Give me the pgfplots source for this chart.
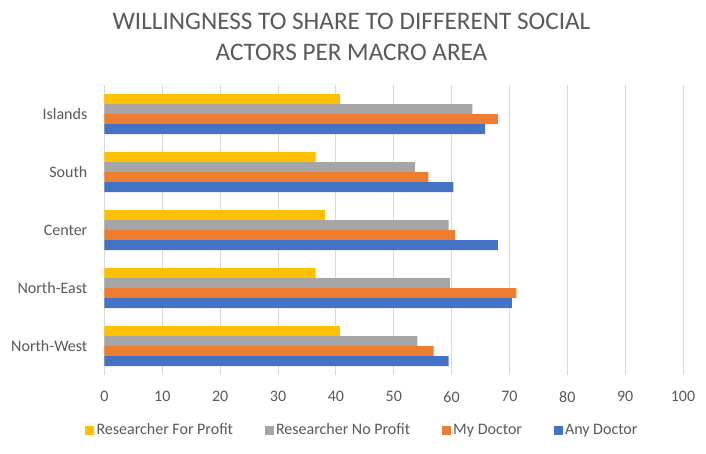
\documentclass[border=0pt]{standalone}
\usepackage{fontspec}
\setmainfont{Carlito}
\usepackage{pgfplots}
\pgfplotsset{compat=1.18}
\definecolor{cyel}{HTML}{FFC000}
\definecolor{cgry}{HTML}{A5A5A5}
\definecolor{corg}{HTML}{ED7D31}
\definecolor{cblu}{HTML}{4472C4}
\definecolor{txt}{HTML}{595959}
\definecolor{gridc}{HTML}{D9D9D9}
\begin{document}
\begin{tikzpicture}
\useasboundingbox (0pt,0pt) rectangle (706pt,453pt);
\node[align=center, text=txt, font=\fontsize{25.2}{31}\selectfont] at (351.5pt,416.5pt)
  {WILLINGNESS TO SHARE TO DIFFERENT SOCIAL\\ACTORS PER MACRO AREA};
\begin{axis}[
  at={(104.5pt,78pt)}, anchor=south west,
  scale only axis, width=578.5pt, height=290pt,
  xbar=0pt, bar width=10pt,
  xmin=0, xmax=100, ymin=-0.5, ymax=4.5,
  ytick={0,1,2,3,4},
  yticklabels={North-West,North-East,Center,South,Islands},
  xtick={0,10,...,100},
  xmajorgrids, grid style={gridc, line width=0.9pt},
  axis line style={draw=none},
  major tick length=0pt,
  /pgf/number format/assume math mode=true,
  tick label style={text=txt, font=\fontsize{16}{19}\selectfont, inner sep=0pt},
  xticklabel style={anchor=north, yshift=-16pt},
  yticklabel style={anchor=east, xshift=-17pt},
  legend style={at={(axis description cs:0.446,-0.19)}, anchor=center, draw=none,
    legend columns=4, font=\fontsize{16}{19}\selectfont, text=txt,
    /tikz/every even column/.append style={column sep=29pt},
    nodes={inner sep=2.5pt}},
  legend image code/.code={\fill[#1,draw=none] (0pt,-4.5pt) rectangle (9pt,4.5pt);},
]
\addplot[fill=cyel, draw=none, bar shift=15pt] coordinates {(40.7,0) (36.5,1) (38.1,2) (36.5,3) (40.7,4)};
\addplot[fill=cgry, draw=none, bar shift=5pt] coordinates {(54.1,0) (59.7,1) (59.5,2) (53.7,3) (63.6,4)};
\addplot[fill=corg, draw=none, bar shift=-5pt] coordinates {(56.9,0) (71.2,1) (60.6,2) (56.0,3) (68.0,4)};
\addplot[fill=cblu, draw=none, bar shift=-15pt] coordinates {(59.5,0) (70.4,1) (68.0,2) (60.3,3) (65.8,4)};
\legend{Researcher For Profit, Researcher No Profit, My Doctor, Any Doctor}
\end{axis}
\end{tikzpicture}
\end{document}
